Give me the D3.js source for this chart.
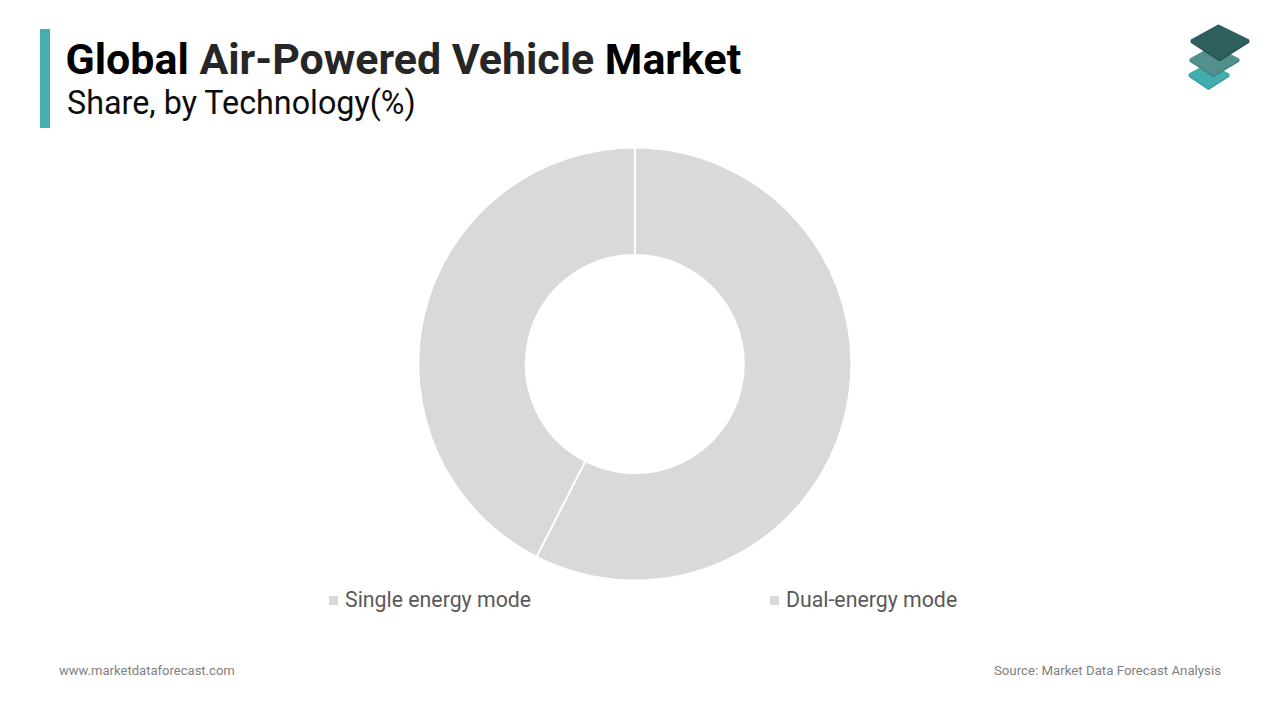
<!DOCTYPE html>
<html>
<head>
<meta charset="utf-8">
<script src="https://cdn.jsdelivr.net/npm/d3@7"></script>
<style>
html, body { margin: 0; padding: 0; background: #fff; }
svg { display: block; }
text { font-family: Roboto, sans-serif; }
</style>
</head>
<body>
<div id="chart"></div>
<script>
// Chart values
var categories = ["Single energy mode", "Dual-energy mode"];
var shares = [57.5, 42.5];
var sliceColors = ["#d9d9d9", "#d9d9d9"];
var titleParts = [
    { text: "Global ", color: "#000" },
    { text: "Air-Powered Vehicle ", color: "#262626" },
    { text: "Market", color: "#000" }
];

var w = 1280,
    h = 720;

var svg = d3.select("#chart")
    .append("svg")
    .attr("width", w)
    .attr("height", h)
    .attr("viewBox", "0 0 " + w + " " + h);

// Title block with the teal bar on its left
svg.append("rect")
    .attr("x", 40)
    .attr("y", 29)
    .attr("width", 10)
    .attr("height", 99)
    .attr("fill", "#46aeae");

svg.append("text")
    .attr("x", 65.5)
    .attr("y", 74)
    .attr("font-size", 42.9)
    .attr("font-weight", 700)
    .selectAll("tspan")
    .data(titleParts)
    .enter()
    .append("tspan")
    .attr("fill", function (d) { return d.color; })
    .style("white-space", "pre")
    .text(function (d) { return d.text; });

svg.append("text")
    .attr("x", 67)
    .attr("y", 114)
    .attr("font-size", 32.3)
    .attr("fill", "#0d0d0d")
    .text("Share, by Technology(%)");

// Logo: three stacked diamonds, bottom one first
var logo = [
    { points: "1190,74.5 1208.5,64.5 1228,74.5 1208.5,87", fill: "#43adad", shade: "#359090" },
    { points: "1191,59.5 1213.5,47 1238,59.5 1213.5,74", fill: "#53908d", shade: "#3f7a77" },
    { points: "1192,40.5 1218.5,26 1248,40.5 1219.5,58.5", fill: "#2e5f5c", shade: "#244d4a" }
];

var logoG = svg.append("g")
    .attr("stroke-width", 3)
    .attr("stroke-linejoin", "round");

logo.forEach(function (d) {
    // darker copy peeks out under each plate as its edge
    logoG.append("polygon")
        .attr("points", d.points)
        .attr("transform", "translate(0,1.2)")
        .attr("fill", d.shade)
        .attr("stroke", d.shade);
    logoG.append("polygon")
        .attr("points", d.points)
        .attr("fill", d.fill)
        .attr("stroke", d.fill);
});

// Donut, clockwise from twelve o'clock
var pie = d3.pie().sort(null).value(function (d) { return d; });
var arc = d3.arc().innerRadius(109).outerRadius(216.5);

var donut = svg.append("g")
    .attr("transform", "translate(634.8,364)");

donut.selectAll("path")
    .data(pie(shares))
    .enter()
    .append("path")
    .attr("d", arc)
    .attr("fill", function (d, i) { return sliceColors[i]; })
    .attr("stroke", "#fff")
    .attr("stroke-width", 2);

// Legend under the donut
var legendX = d3.scalePoint()
    .domain(categories)
    .range([329, 770]);

var legend = svg.selectAll("g.legendItem")
    .data(categories)
    .enter()
    .append("g")
    .attr("class", "legendItem")
    .attr("transform", function (d) { return "translate(" + legendX(d) + ",0)"; });

legend.append("rect")
    .attr("y", 596)
    .attr("width", 9)
    .attr("height", 9)
    .attr("fill", function (d, i) { return sliceColors[i]; });

legend.append("text")
    .attr("x", 16)
    .attr("y", 607)
    .attr("font-size", 21.3)
    .attr("fill", "#595959")
    .text(function (d) { return d; });

// Footer
svg.append("text")
    .attr("x", 59)
    .attr("y", 675)
    .attr("font-size", 13.05)
    .attr("fill", "#7f7f7f")
    .text("www.marketdataforecast.com");

svg.append("text")
    .attr("x", 1221)
    .attr("y", 675)
    .attr("font-size", 13.25)
    .attr("text-anchor", "end")
    .attr("fill", "#7f7f7f")
    .text("Source: Market Data Forecast Analysis");
</script>
</body>
</html>
